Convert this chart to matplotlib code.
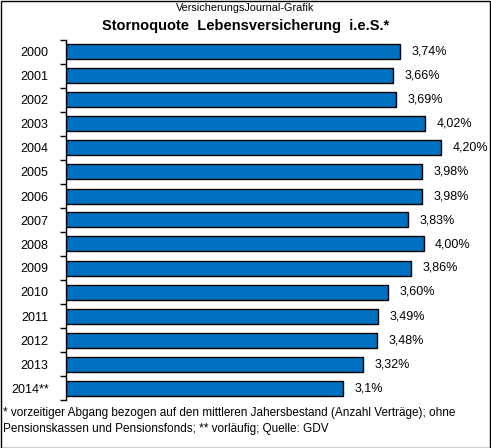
import matplotlib
matplotlib.use('Agg')
from matplotlib import pyplot as plt
from matplotlib.patches import Rectangle

years = ['2000', '2001', '2002', '2003', '2004', '2005', '2006', '2007',
         '2008', '2009', '2010', '2011', '2012', '2013', '2014**']
quote = [3.74, 3.66, 3.69, 4.02, 4.20, 3.98, 3.98, 3.83,
         4.00, 3.86, 3.60, 3.49, 3.48, 3.32, 3.1]
labels = ['3,74%', '3,66%', '3,69%', '4,02%', '4,20%', '3,98%', '3,98%', '3,83%',
          '4,00%', '3,86%', '3,60%', '3,49%', '3,48%', '3,32%', '3,1%']

plt.rcParams['font.family'] = ['Liberation Sans', 'DejaVu Sans']

W, H = 491, 448
fig = plt.figure(figsize=(W / 100, H / 100), dpi=100)
ax = fig.add_axes([66 / W, 1 - 400 / H, (470 - 66) / W, 360 / H])

pos = list(range(len(years)))
ax.barh(pos, quote, height=0.625, color='#0070C0', edgecolor='black', linewidth=1)
for p, v, t in zip(pos, quote, labels):
    ax.text(v + 0.13, p, t, va='center', ha='left', fontsize=9)

ax.set_ylim(len(years) - 0.5, -0.5)
ax.set_xlim(0, 4.52)
# Striche zwischen den Balken, Jahreszahlen mittig
ax.set_yticks([p + 0.5 for p in [-1] + pos])
ax.set_yticklabels([])
ax.set_yticks(pos, minor=True)
ax.set_yticklabels(years, minor=True, fontsize=9)
ax.tick_params(axis='y', which='major', length=4, direction='out', width=1)
ax.tick_params(axis='y', which='minor', length=0, pad=12.5)
ax.set_xticks([])
for s in ['top', 'right', 'bottom']:
    ax.spines[s].set_visible(False)
ax.spines['left'].set_linewidth(1)

fig.text(0.5, 1 - 8 / H, 'VersicherungsJournal-Grafik', ha='center', va='center', fontsize=7.8)
fig.text(0.5, 1 - 26 / H, 'Stornoquote  Lebensversicherung  i.e.S.*', ha='center', va='center',
         fontsize=10.5, fontweight='bold')
fig.text(3 / W, 1 - 413 / H,
         '* vorzeitiger Abgang bezogen auf den mittleren Jahersbestand (Anzahl Verträge); ohne',
         ha='left', va='center', fontsize=8.5)
fig.text(3 / W, 1 - 429 / H, 'Pensionskassen und Pensionsfonds; ** vorläufig; Quelle: GDV',
         ha='left', va='center', fontsize=8.5)

fig.patches.append(Rectangle((0.5 / W, 0.5 / H), 1 - 1.5 / W, 1 - 1.5 / H, transform=fig.transFigure,
                             fill=False, edgecolor='black', linewidth=1))

fig.savefig('out.png', dpi=100)
